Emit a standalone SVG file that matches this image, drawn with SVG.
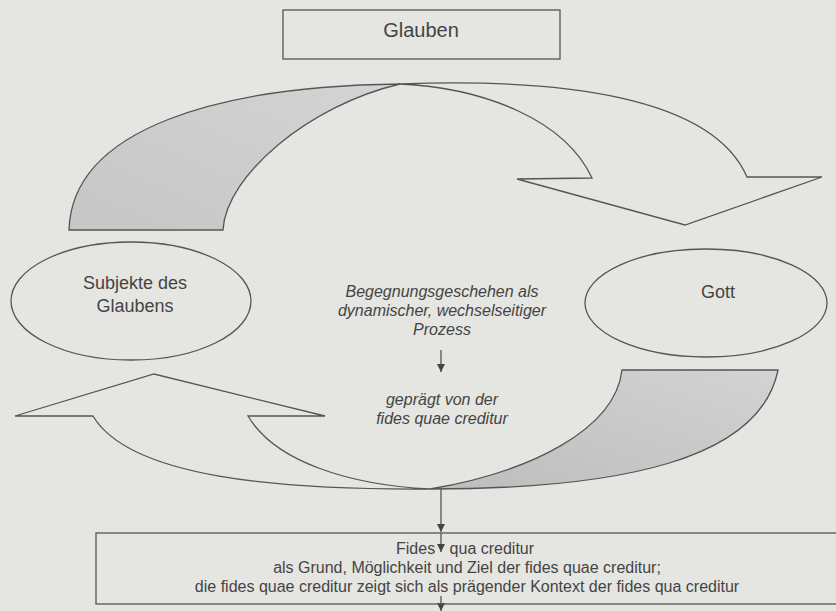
<svg xmlns="http://www.w3.org/2000/svg" width="836" height="611" viewBox="0 0 836 611">
  <defs>
    <style>
      .ln{fill:none;stroke:#555;stroke-width:1.3}
      .shade{stroke:#555;stroke-width:1.3}
      .open{fill:none;stroke:#555;stroke-width:1.3;stroke-linejoin:miter}
      text{font-family:"Liberation Sans",Arial,sans-serif;fill:#444;text-anchor:middle}
      .big{font-size:20px}
      .lbl{font-size:18px}
      .it{font-size:16px;font-style:italic}
      .box{font-size:16px}
    </style>
    <linearGradient id="gTop" x1="0" y1="1" x2="1" y2="0">
      <stop offset="0" stop-color="#c6c6c6"/>
      <stop offset="1" stop-color="#d4d4d4"/>
    </linearGradient>
    <linearGradient id="gBottom" x1="0" y1="1" x2="1" y2="0">
      <stop offset="0" stop-color="#bdbdbd"/>
      <stop offset="1" stop-color="#d3d3d3"/>
    </linearGradient>
    <marker id="ah" markerUnits="userSpaceOnUse" markerWidth="8" markerHeight="8" refX="8" refY="4" orient="auto">
      <path d="M0,0 L8,4 L0,8 Z" fill="#444"/>
    </marker>
  </defs>

  <rect width="836" height="611" fill="#e5e5e2"/>

  <!-- curved cycle arrows and straight connectors -->
  <g id="connectors">
    <!-- upper arc: Subjekte des Glaubens -> Gott -->
    <path class="shade" fill="url(#gTop)" d="M69,230 C72,128 220,86 400,84 C310,105 226,175 223,230 Z"/>
    <path class="open" d="M400,84 C560,78 712,96 747,177 L822,177 L685,225 L517,179 L592,178 C565,120 485,88 400,84 Z"/>
    <!-- lower arc: Gott -> Subjekte des Glaubens -->
    <path class="shade" fill="url(#gBottom)" d="M430,489 C620,489 760,460 778,370 L622,370 C615,430 530,472 430,489 Z"/>
    <path class="open" d="M430,489 C280,490 130,478 93,416 L15,416 L154,374 L325,416 L248,416 C275,462 350,485 430,489 Z"/>
    <!-- vertical arrows -->
    <line class="ln" x1="441" y1="350" x2="441" y2="372" marker-end="url(#ah)"/>
    <line class="ln" x1="441" y1="489" x2="441" y2="532" marker-end="url(#ah)"/>
    <line class="ln" x1="441" y1="533" x2="441" y2="552" marker-end="url(#ah)"/>
    <line class="ln" x1="441" y1="596" x2="441" y2="611" marker-end="url(#ah)"/>
  </g>

  <g id="glauben">
    <rect class="ln" x="283" y="10" width="277" height="49"/>
    <text class="big" x="421" y="37">Glauben</text>
  </g>

  <g id="subjekte">
    <ellipse class="ln" cx="131" cy="301" rx="120" ry="59"/>
    <text class="lbl" x="135" y="289">Subjekte des</text>
    <text class="lbl" x="135" y="312">Glaubens</text>
  </g>

  <g id="gott">
    <ellipse class="ln" cx="706" cy="303" rx="121" ry="54"/>
    <text class="lbl" x="718" y="298">Gott</text>
  </g>

  <g id="prozess">
    <text class="it" x="442" y="297">Begegnungsgeschehen als</text>
    <text class="it" x="442" y="316">dynamischer, wechselseitiger</text>
    <text class="it" x="442" y="335">Prozess</text>
  </g>

  <g id="fides-quae">
    <text class="it" x="442" y="405">geprägt von der</text>
    <text class="it" x="442" y="424">fides quae creditur</text>
  </g>

  <g id="fides-qua">
    <rect class="ln" x="96" y="533" width="760" height="71"/>
    <text class="box" x="396" y="554" style="text-anchor:start">Fides <tspan dx="10">qua creditur</tspan></text>
    <text class="box" x="467" y="573">als Grund, Möglichkeit und Ziel der fides quae creditur;</text>
    <text class="box" x="467" y="592">die fides quae creditur zeigt sich als prägender Kontext der fides qua creditur</text>
  </g>
</svg>
